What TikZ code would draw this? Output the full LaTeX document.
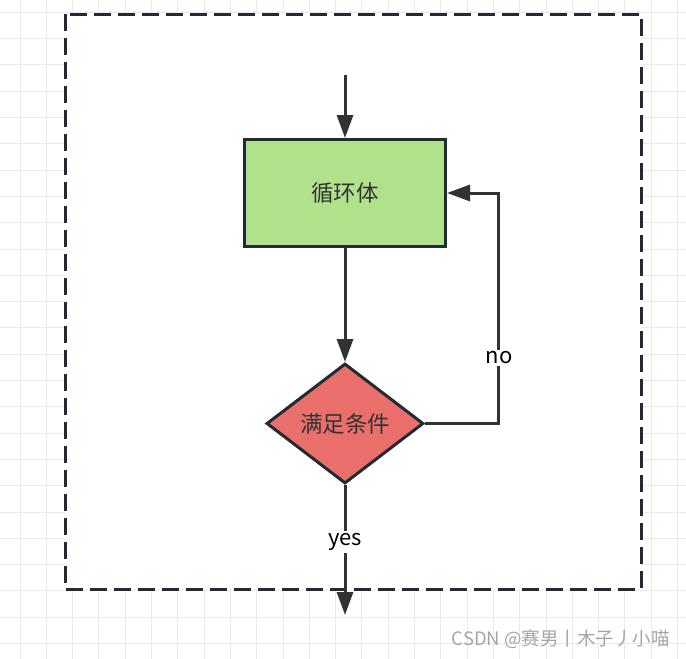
\documentclass[tikz,border=0pt]{standalone}
\usepackage{fontspec}
\setmainfont{Noto Sans CJK SC}
\usetikzlibrary{shapes.geometric, arrows.meta}
\definecolor{gridcol}{RGB}{234,234,234}
\definecolor{framecol}{RGB}{35,42,52}
\definecolor{linecol}{RGB}{50,50,50}
\definecolor{bodyfill}{RGB}{176,226,140}
\definecolor{condfill}{RGB}{234,110,106}
\definecolor{textcol}{RGB}{51,51,51}
\definecolor{wmcol}{RGB}{165,165,165}

\begin{document}
\begin{tikzpicture}[
        x=1pt, y=-1pt,
        gridline/.style={gridcol, line width=1pt},
        frame/.style={draw=framecol, line width=3pt, fill=white,
                      dash pattern=on 17pt off 7pt},
        bodybox/.style={draw=framecol, line width=3pt, fill=bodyfill,
                        minimum width=201pt, minimum height=107pt,
                        font=\fontsize{22.5}{26}\selectfont, text=textcol},
        condbox/.style={diamond, draw=framecol, line width=3pt, fill=condfill,
                        aspect=1.3, inner sep=0pt,
                        minimum width=157pt, minimum height=120pt,
                        font=\fontsize{22.5}{26}\selectfont, text=textcol},
        arrow/.style={-{Triangle[length=23pt,width=16pt]}, line width=3pt, linecol},
        lbl/.style={fill=white, inner sep=2pt, text=black,
                    font=\fontsize{22}{26}\selectfont},
        wmtext/.style={text=wmcol, inner sep=0pt,
                       font=\fontsize{18.5}{22}\selectfont},
    ]

    \useasboundingbox (0,0) rectangle (686,659);

    % ---------- background grid ------------------------------------------
    \foreach \k in {0,...,25}
        \draw[gridline] (20+26.3*\k,0) -- (20+26.3*\k,659);
    \foreach \k in {0,...,24}
        \draw[gridline] (0,12.3+26.3*\k) -- (686,12.3+26.3*\k);

    % ---------- dashed frame ---------------------------------------------
    \draw[frame] (65,14) rectangle (641,589);

    % ---------- loop -----------------------------------------------------
    \coordinate (start) at (345,75);
    \node[bodybox] (body) at (345,193) {循环体};
    \node[condbox] (cond) at (345,423.5) {满足条件};
    \coordinate (back) at (498,300);
    \coordinate (exit) at (345,615);

    \draw[arrow] (start) -- (body.north);
    \draw[arrow] (body.south) -- (cond.north);
    \draw[arrow] (cond.east) -| (back) |- (body.east);
    \draw[arrow] (cond.south) -- (exit);

    \node[lbl] (nolbl) at (499,358) {no};
    \node[lbl] (yeslbl) at (345,542) {yes};

    % ---------- watermark ------------------------------------------------
    \node[wmtext, anchor=east] (wm) at (670,639) {CSDN @赛男丨木子丿小喵};

\end{tikzpicture}
\end{document}
